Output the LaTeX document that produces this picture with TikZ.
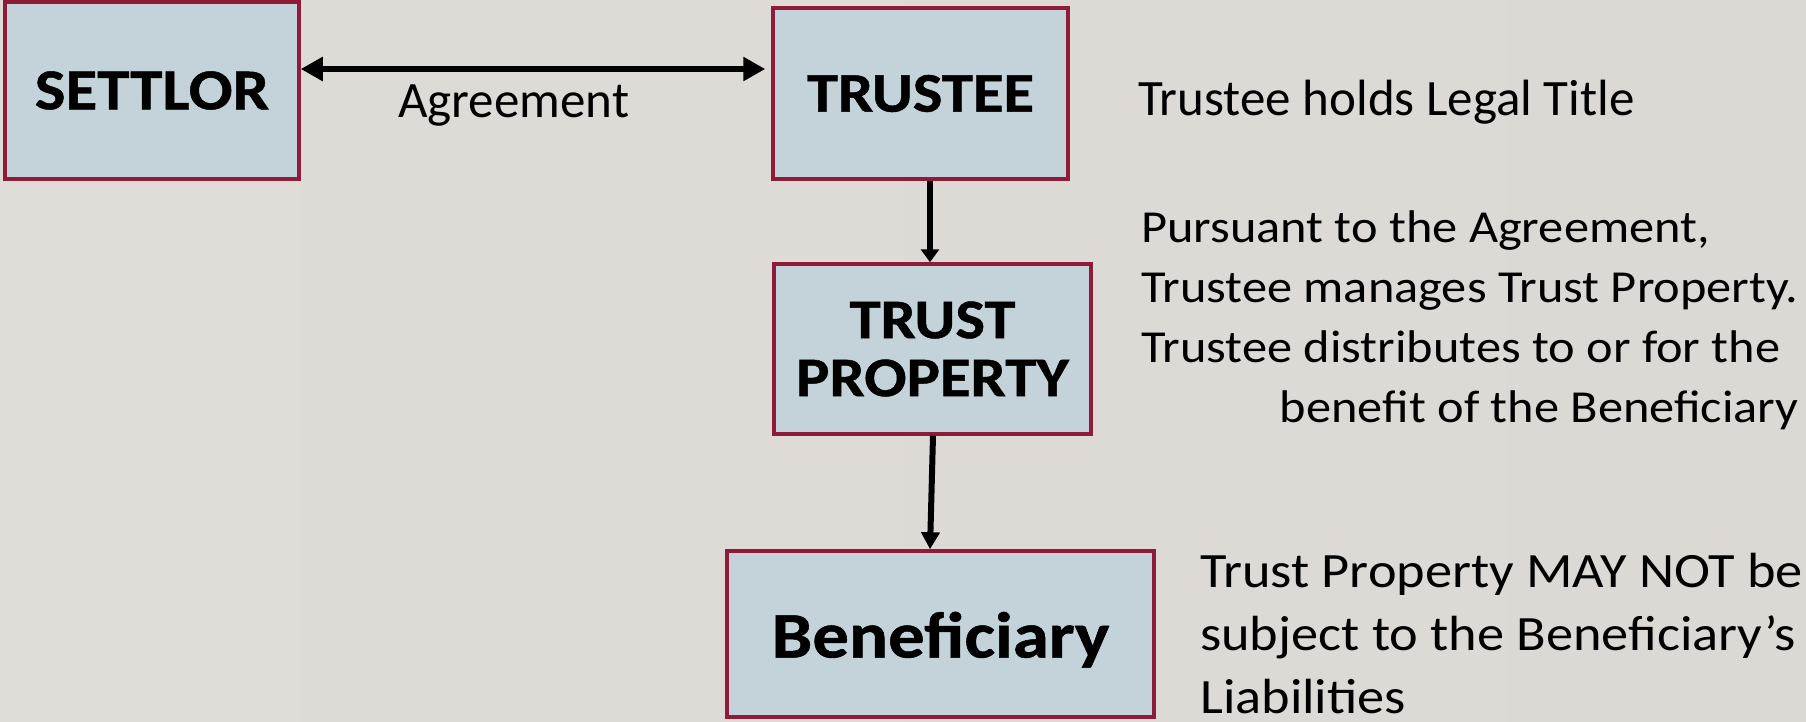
\documentclass[tikz,border=0pt]{standalone}
\usepackage{fontspec}
\setmainfont{Carlito}
\newfontfamily\widefont{Carlito}[FakeStretch=1.1]
\newfontfamily\boxfont{Carlito}[FakeStretch=1.12,FakeBold=0.8]
\usetikzlibrary{arrows.meta}
\definecolor{bgL}{HTML}{DFDCD7}
\definecolor{bgM}{HTML}{E9E7E3}
\definecolor{bgR}{HTML}{DCD9D4}
\definecolor{boxfill}{HTML}{C4D3DA}
\definecolor{boxborder}{HTML}{8E1B3A}
\begin{document}
\begin{tikzpicture}[x=1pt,y=-1pt,
  box/.style={draw=boxborder, fill=boxfill, line width=3.5pt, inner sep=0pt, align=center},
  conn/.style={line width=6pt, black},
  txt/.style={inner sep=0pt, anchor=base west}]
\shade[left color=bgL, middle color=bgM, right color=bgR] (0,0) rectangle (1806,721);
\useasboundingbox (0,0) rectangle (1806,721);

\node[box, minimum width=294pt, minimum height=177pt, font=\boxfont\bfseries\fontsize{58}{60}\selectfont] (settlor) at (152,90.5) {SETTLOR};
\node[box, minimum width=295pt, minimum height=171pt, font=\boxfont\bfseries\fontsize{56}{60}\selectfont] (trustee) at (920.5,93.5) {TRUSTEE};
\node[box, minimum width=317pt, minimum height=170pt, font=\boxfont\bfseries\fontsize{56}{58}\selectfont] (property) at (932.5,349) {TRUST\\PROPERTY};
\node[box, minimum width=427pt, minimum height=166pt, text height=47pt, text depth=0pt, font=\boxfont\bfseries\fontsize{65}{70}\selectfont] (benef) at (940.5,634) {Beneficiary};

\draw[conn, {Triangle[length=22pt,width=23pt]}-{Triangle[length=22pt,width=23pt]}]
  ([yshift=21.5pt]settlor.east) -- ([xshift=-6pt,yshift=24.5pt]trustee.west);
\draw[conn, -{Triangle[length=13pt,width=18pt]}]
  ([xshift=9.5pt]trustee.south) -- ([xshift=-2.5pt]property.north);
\draw[conn, -{Triangle[length=17pt,width=18pt]}]
  ([xshift=0.5pt]property.south) -- ([xshift=-10.5pt]benef.north);

\node[txt, font=\fontsize{51}{60}\selectfont] (agree) at (398,117) {Agreement};
\node[txt, font=\fontsize{51}{60}\selectfont] (legal) at (1138,115) {Trustee holds Legal Title};
\node[txt, font=\widefont\fontsize{45.8}{60}\selectfont] (pursuant) at (1141,242) {%
  \begin{tabular}[t]{@{}l@{}}
  Pursuant to the Agreement,\\
  Trustee manages Trust Property.\\
  Trustee distributes to or for the\\
  \multicolumn{1}{@{}r@{}}{benefit of the Beneficiary}
  \end{tabular}};
\node[txt, font=\widefont\fontsize{49.4}{63}\selectfont] (liab) at (1200,587) {%
  \vtop{\baselineskip=63pt\lineskiplimit=-100pt
    \hbox{Trust Property MAY NOT be}
    \hbox{subject to the Beneficiary’s}
    \hbox{Liabilities}}};
\end{tikzpicture}
\end{document}
